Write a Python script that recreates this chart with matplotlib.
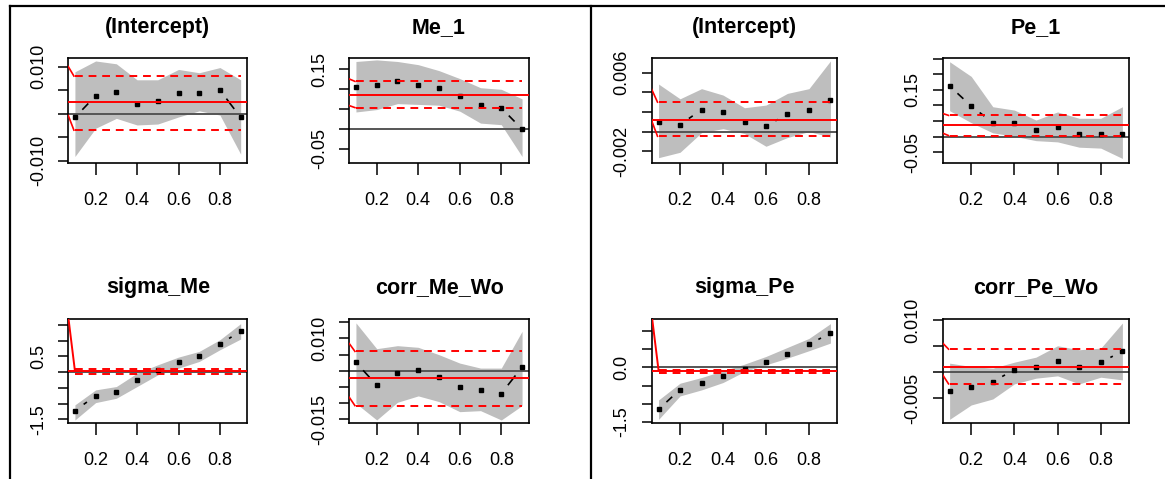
import numpy as np
import matplotlib
matplotlib.use("Agg")
import matplotlib.pyplot as plt
from matplotlib.lines import Line2D

plt.rcParams['font.family'] = ['Liberation Sans', 'DejaVu Sans']

# quantiles
taus = [0.1, 0.2, 0.3, 0.4, 0.5, 0.6, 0.7, 0.8, 0.9]

# left block: Me model
int_me_est = [-0.0008, 0.0038, 0.0046, 0.0021, 0.0026, 0.0045, 0.0045, 0.0050, -0.0008]
int_me_lo = [-0.0091, -0.0031, -0.0010, -0.0024, -0.0022, -0.0007, 0.0006, -0.0003, -0.0086]
int_me_hi = [0.0089, 0.0112, 0.0106, 0.0072, 0.0072, 0.0094, 0.0087, 0.0098, 0.0072]
int_me_ols = [0.0025, 0.0080, -0.0035]      # estimate, upper, lower
int_me_start = [None, 0.0100, -0.0004]

me1_est = [0.105, 0.110, 0.119, 0.110, 0.103, 0.081, 0.060, 0.052, -0.001]
me1_lo = [0.042, 0.048, 0.063, 0.061, 0.059, 0.044, 0.014, 0.010, -0.070]
me1_hi = [0.169, 0.173, 0.169, 0.161, 0.146, 0.126, 0.103, 0.099, 0.075]
me1_ols = [0.085, 0.119, 0.053]
me1_start = [None, 0.125, 0.058]

sig_me_est = [-1.22, -0.755, -0.617, -0.255, 0.074, 0.309, 0.521, 0.894, 1.298]
sig_me_lo = [-1.52, -0.968, -0.83, -0.457, -0.085, 0.128, 0.34, 0.713, 1.053]
sig_me_hi = [-1.04, -0.564, -0.457, -0.032, 0.234, 0.479, 0.66, 1.032, 1.543]
sig_me_ols = [0.04, 0.096, -0.053]
sig_me_start = [1.75, None, None]

cor_me_est = [0.00259, -0.00445, -0.00083, 0.0002, -0.00186, -0.00486, -0.0058, -0.00704, 0.00114]
cor_me_lo = [-0.01004, -0.0152, -0.00973, -0.00776, -0.00952, -0.01263, -0.01232, -0.0152, -0.01076]
cor_me_hi = [0.0148, 0.00683, 0.00776, 0.00725, 0.00497, 0.00238, 0.00083, 0.00083, 0.0122]
cor_me_ols = [-0.00238, 0.006, -0.01076]
cor_me_start = [None, 0.0084, -0.0082]

# right block: Pe model
int_pe_est = [0.00096, 0.00072, 0.00222, 0.00202, 0.0010, 0.00059, 0.00175, 0.00222, 0.00317]
int_pe_lo = [-0.00265, -0.0021, -0.0001, 0.0003, -0.0002, -0.00149, -0.0006, 0.0, -0.00054]
int_pe_hi = [0.00484, 0.00334, 0.00437, 0.00372, 0.00243, 0.0027, 0.00389, 0.00437, 0.00719]
int_pe_ols = [0.00123, 0.0030, -0.00047]
int_pe_start = [None, 0.0043, 0.0011]

pe1_est = [0.162, 0.098, 0.0446, 0.0424, 0.0196, 0.030, 0.0098, 0.0098, 0.0098]
pe1_lo = [0.083, 0.0446, 0.012, 0.001, -0.013, -0.017, -0.034, -0.037, -0.070]
pe1_hi = [0.240, 0.193, 0.0957, 0.085, 0.053, 0.079, 0.0587, 0.0587, 0.0957]
pe1_ols = [0.0359, 0.068, 0.0033]
pe1_start = [None, 0.074, 0.011]

sig_pe_est = [-1.151, -0.608, -0.433, -0.230, -0.037, 0.147, 0.368, 0.635, 0.949]
sig_pe_lo = [-1.428, -0.783, -0.617, -0.414, -0.11, 0.074, 0.258, 0.461, 0.672]
sig_pe_hi = [-0.893, -0.433, -0.276, -0.092, 0.092, 0.304, 0.553, 0.80, 1.207]
sig_pe_ols = [-0.083, -0.075, -0.157]
sig_pe_start = [1.45, None, None]

cor_pe_est = [-0.00369, -0.00278, -0.00181, 0.00045, 0.00097, 0.00226, 0.00097, 0.00194, 0.00401]
cor_pe_lo = [-0.00912, -0.00634, -0.00518, -0.00226, -0.00116, -0.00071, -0.00226, -0.00097, -0.00149]
cor_pe_hi = [0.00175, 0.0011, 0.00078, 0.00194, 0.00291, 0.00511, 0.00434, 0.00466, 0.00951]
cor_pe_ols = [0.00097, 0.00446, -0.00226]
cor_pe_start = [None, 0.00563, -0.00052]

# y ticks and which labels R kept
int_me_ticks = [-0.010, -0.005, 0.0, 0.005, 0.010]
int_me_labels = ['-0.010', '', '', '', '0.010']
me1_ticks = [-0.05, 0.0, 0.05, 0.10, 0.15]
me1_labels = ['-0.05', '', '', '', '0.15']
sig_me_ticks = [-1.5, -1.0, -0.5, 0.0, 0.5, 1.0, 1.5]
sig_me_labels = ['-1.5', '', '', '', '0.5', '', '']
cor_me_ticks = [-0.015, -0.010, -0.005, 0.0, 0.005, 0.010, 0.015]
cor_me_labels = ['-0.015', '', '', '', '', '0.010', '']
int_pe_ticks = [-0.002, 0.0, 0.002, 0.004, 0.006]
int_pe_labels = ['-0.002', '', '', '', '0.006']
pe1_ticks = [-0.05, 0.0, 0.05, 0.10, 0.15, 0.20, 0.25]
pe1_labels = ['-0.05', '', '', '', '0.15', '', '']
sig_pe_ticks = [-1.5, -1.0, -0.5, 0.0, 0.5, 1.0]
sig_pe_labels = ['-1.5', '', '', '0.0', '', '']
cor_pe_ticks = [-0.005, 0.0, 0.005, 0.010]
cor_pe_labels = ['-0.005', '', '', '0.010']

XLIM = (0.068, 0.932)
W, H = 1165, 479


def px_axes(x0, x1, y0, y1):
    # pixel box -> figure fraction
    return [x0 / W, 1 - y1 / H, (x1 - x0) / W, (y1 - y0) / H]


# type="b" style: segments with gaps around the points
def b_segments(ax, x, y, gap=11.5):
    pts = ax.transData.transform(np.column_stack([x, y]))
    inv = ax.transData.inverted()
    for p0, p1 in zip(pts[:-1], pts[1:]):
        d = p1 - p0
        L = np.hypot(*d)
        if L <= 2 * gap + 1.0:
            continue
        a = inv.transform(p0 + d * gap / L)
        b = inv.transform(p1 - d * gap / L)
        ax.plot([a[0], b[0]], [a[1], b[1]], color='black', lw=1.2, zorder=4)


def draw_panel(fig, box, title, est, lo, hi, ols, start, ylim, ticks, labels):
    ax = fig.add_axes(px_axes(*box))
    ax.set_xlim(*XLIM)
    ax.set_ylim(*ylim)

    ax.fill_between(taus, lo, hi, color='#bebebe', lw=0, zorder=1)
    ax.axhline(0, color='#555555', lw=1.4, zorder=2)

    ax.plot(taus, est, 's', color='black', ms=3.3, zorder=5)
    b_segments(ax, taus, est)

    # ols estimate and its band
    ax.axhline(ols[0], color='red', lw=1.4, zorder=6)
    if start[0] is not None:
        ax.plot([XLIM[0], taus[0]], [start[0], ols[0]], color='red', lw=1.4, zorder=6)
    for k in (1, 2):
        ax.plot([taus[0], taus[-1]], [ols[k], ols[k]], color='red', lw=1.4,
                ls=(0, (4, 3)), zorder=6)
        if start[k] is not None:
            ax.plot([XLIM[0], taus[0] - 0.005], [start[k], ols[k]], color='red',
                    lw=1.2, zorder=6)

    ax.set_xticks([0.2, 0.4, 0.6, 0.8])
    ax.set_xticklabels(['0.2', '0.4', '0.6', '0.8'])
    ax.set_yticks(ticks)
    ax.set_yticklabels(labels, rotation=90, va='center')
    ax.tick_params(axis='x', length=8.6, width=1.1, pad=12.5, labelsize=13)
    ax.tick_params(axis='y', length=7.2, width=1.1, pad=8, labelsize=13)
    for s in ax.spines.values():
        s.set_linewidth(1.2)
    ax.set_title(title, fontsize=15.5, fontweight='bold', pad=18.5)
    return ax


fig = plt.figure(figsize=(W / 100, H / 100), dpi=100)

cols = [(68.3, 247.3), (349.3, 528.7), (651.7, 837.3), (942.7, 1129.3)]
rows = [(58.3, 162.7), (319.0, 422.7)]

draw_panel(fig, (*cols[0], *rows[0]), '(Intercept)', int_me_est, int_me_lo, int_me_hi,
           int_me_ols, int_me_start, (-0.01042, 0.01177), int_me_ticks, int_me_labels)
draw_panel(fig, (*cols[1], *rows[0]), 'Me_1', me1_est, me1_lo, me1_hi,
           me1_ols, me1_start, (-0.0856, 0.177), me1_ticks, me1_labels)
draw_panel(fig, (*cols[0], *rows[1]), 'sigma_Me', sig_me_est, sig_me_lo, sig_me_hi,
           sig_me_ols, sig_me_start, (-1.607, 1.69), sig_me_ticks, sig_me_labels)
draw_panel(fig, (*cols[1], *rows[1]), 'corr_Me_Wo', cor_me_est, cor_me_lo, cor_me_hi,
           cor_me_ols, cor_me_start, (-0.01604, 0.016), cor_me_ticks, cor_me_labels)

draw_panel(fig, (*cols[2], *rows[0]), '(Intercept)', int_pe_est, int_pe_lo, int_pe_hi,
           int_pe_ols, int_pe_start, (-0.00316, 0.00746), int_pe_ticks, int_pe_labels)
draw_panel(fig, (*cols[3], *rows[0]), 'Pe_1', pe1_est, pe1_lo, pe1_hi,
           pe1_ols, pe1_start, (-0.0837, 0.251), pe1_ticks, pe1_labels)
draw_panel(fig, (*cols[2], *rows[1]), 'sigma_Pe', sig_pe_est, sig_pe_lo, sig_pe_hi,
           sig_pe_ols, sig_pe_start, (-1.52, 1.335), sig_pe_ticks, sig_pe_labels)
draw_panel(fig, (*cols[3], *rows[1]), 'corr_Pe_Wo', cor_pe_est, cor_pe_lo, cor_pe_hi,
           cor_pe_ols, cor_pe_start, (-0.00977, 0.01029), cor_pe_ticks, cor_pe_labels)

# table frame around the two plot blocks
fig.add_artist(Line2D([9.5 / W, 1.0], [1 - 5.5 / H, 1 - 5.5 / H], color='black', lw=1.6))
fig.add_artist(Line2D([9.5 / W, 9.5 / W], [0, 1 - 5.5 / H], color='black', lw=1.6))
fig.add_artist(Line2D([590.7 / W, 590.7 / W], [0, 1 - 5.5 / H], color='black', lw=1.6))

fig.savefig('out.png', dpi=100)
